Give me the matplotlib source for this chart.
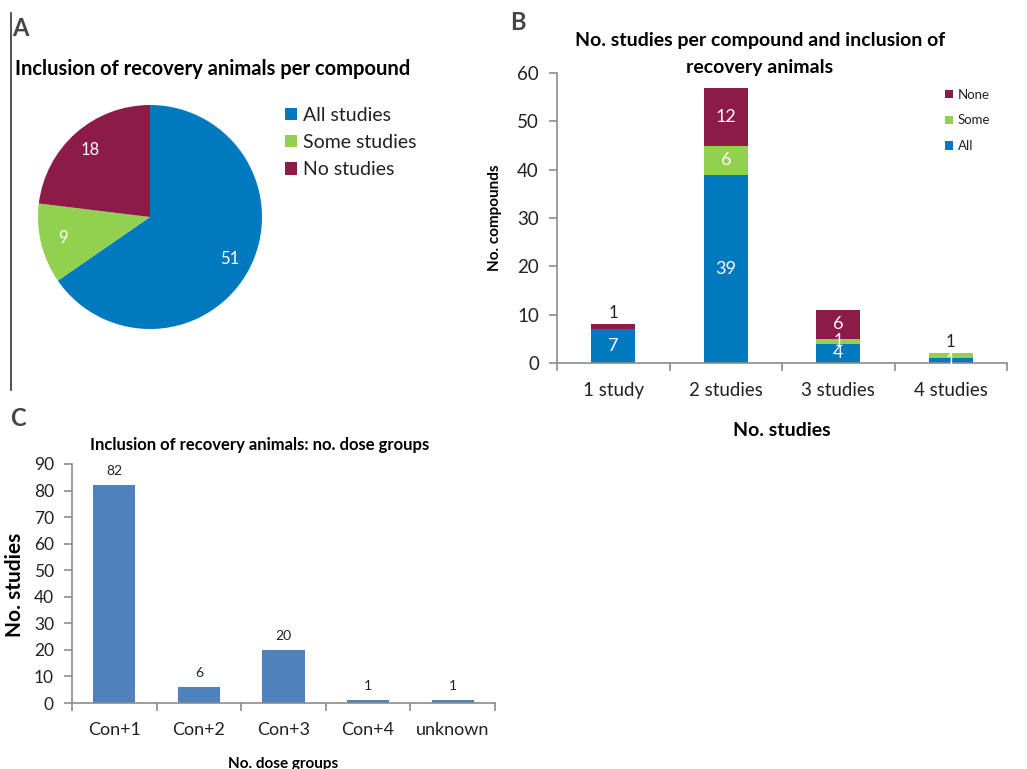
import matplotlib
matplotlib.use("Agg")
import matplotlib.pyplot as plt
import numpy as np
from matplotlib.lines import Line2D

plt.rcParams['font.family'] = ['Lato', 'DejaVu Sans']

# --- data ---
pie_labels = ['All studies', 'Some studies', 'No studies']
pie_values = [51, 9, 18]

study_cats = ['1 study', '2 studies', '3 studies', '4 studies']
all_vals = [7, 39, 4, 1]
some_vals = [0, 6, 1, 1]
none_vals = [1, 12, 6, 0]

dose_cats = ['Con+1', 'Con+2', 'Con+3', 'Con+4', 'unknown']
dose_vals = [82, 6, 20, 1, 1]

BLUE = '#0079BE'
GREEN = '#92D050'
RED = '#8C1B47'
BAR_C = '#4F81BD'
AXIS_GREY = '#8C8C8C'
TXT = '#222222'

W, H = 1027, 769
fig = plt.figure(figsize=(W / 100, H / 100), dpi=100)


def fx(px):
    return px / W


def fy(py):
    return 1 - py / H


# ---------- Panel A: pie ----------
cx, cy, r = 150, 217, 112
axA = fig.add_axes([fx(cx - r), fy(cy + r), 2 * r / W, 2 * r / H])
wedges, _, autotexts = axA.pie(pie_values, colors=[BLUE, GREEN, RED], startangle=90,
                               counterclock=False, autopct=lambda p: f'{p * sum(pie_values) / 100:.0f}',
                               pctdistance=0.8, textprops=dict(color='white', fontsize=12))
axA.set_xlim(-1, 1)
axA.set_ylim(-1, 1)
axA.legend(wedges, pie_labels, loc='upper left', bbox_to_anchor=(fx(285), fy(107)),
           bbox_transform=fig.transFigure, frameon=False, fontsize=14,
           handlelength=0.6, handleheight=0.6, handletextpad=0.35, labelspacing=0.52,
           borderpad=0, borderaxespad=0, labelcolor=TXT)

fig.text(fx(15), fy(69), 'Inclusion of recovery animals per compound', fontsize=14.5,
         fontweight='bold', ha='left', va='center', color='black')
fig.text(fx(12), fy(28), 'A', fontsize=17, fontweight='bold', color='#444444', ha='left', va='center')
fig.add_artist(Line2D([fx(11), fx(11)], [fy(13), fy(390)], color='#333333', lw=1.2))


def style_axes(ax, ncat):
    for s in ['top', 'right']:
        ax.spines[s].set_visible(False)
    for s in ['left', 'bottom']:
        ax.spines[s].set_color(AXIS_GREY)
        ax.spines[s].set_linewidth(1.2)
    ax.set_xlim(-0.5, ncat - 0.5)
    ax.set_xticks(np.arange(ncat))
    ax.set_xticks(np.arange(ncat + 1) - 0.5, minor=True)
    ax.tick_params(axis='x', which='major', length=0, pad=14)
    ax.tick_params(axis='x', which='minor', length=6, color=AXIS_GREY, width=1.2)
    ax.tick_params(axis='y', length=6, color=AXIS_GREY, width=1.2, pad=7, labelcolor=TXT)
    ax.tick_params(axis='x', labelcolor=TXT)


# ---------- Panel B: stacked bars ----------
axB = fig.add_axes([fx(557), fy(363), (1007 - 557) / W, (363 - 73) / H])
x = np.arange(len(study_cats))
bw = 0.39
b_all = axB.bar(x, all_vals, bw, color=BLUE, label='All')
b_some = axB.bar(x, some_vals, bw, bottom=all_vals, color=GREEN, label='Some')
bottom2 = np.array(all_vals) + np.array(some_vals)
b_none = axB.bar(x, none_vals, bw, bottom=bottom2, color=RED, label='None')
style_axes(axB, len(study_cats))
axB.set_ylim(0, 60)
axB.set_yticks(range(0, 61, 10))
axB.set_xticklabels(study_cats, fontsize=13.5)
axB.tick_params(axis='y', labelsize=13.5)

# value labels
for i in range(len(study_cats)):
    segs = [(all_vals[i], 0), (some_vals[i], all_vals[i]), (none_vals[i], bottom2[i])]
    for v, b in segs:
        if v == 0:
            continue
        if v == 1 and (i == 0 or i == 3) and b > 0:
            axB.text(x[i], b + v + 0.6, str(v), ha='center', va='bottom', fontsize=12, color=TXT)
        else:
            axB.text(x[i], b + v / 2, str(v), ha='center', va='center', fontsize=13 if v > 1 else 12,
                     color='white')

axB.legend(handles=[b_none, b_some, b_all], loc='upper left', bbox_to_anchor=(fx(938), fy(82)),
           bbox_transform=fig.transFigure, frameon=False, fontsize=9.5,
           handlelength=0.6, handleheight=0.6, handletextpad=0.4, labelspacing=1.05, borderpad=0,
           labelcolor=TXT)
axB.set_ylabel('No. compounds', fontsize=11, fontweight='bold')
axB.yaxis.set_label_coords(-0.122, 0.5)
axB.set_xlabel('No. studies', fontsize=14, fontweight='bold')
axB.xaxis.set_label_coords(0.5, -0.203)
fig.text(fx(760), fy(54), 'No. studies per compound and inclusion of\nrecovery animals', fontsize=14,
         fontweight='bold', ha='center', va='center', linespacing=1.7)
fig.text(fx(518), fy(22), 'B', fontsize=17, fontweight='bold', color='#444444', ha='center', va='center')

# ---------- Panel C: bars ----------
axC = fig.add_axes([fx(72), fy(703), (495 - 72) / W, (703 - 464) / H])
xc = np.arange(len(dose_cats))
axC.bar(xc, dose_vals, 0.5, color=BAR_C)
style_axes(axC, len(dose_cats))
axC.set_ylim(0, 90)
axC.set_yticks(range(0, 91, 10))
axC.set_xticklabels(dose_cats, fontsize=13)
axC.tick_params(axis='y', labelsize=12.5)
for xi, v in zip(xc, dose_vals):
    axC.text(xi, v + 3, str(v), ha='center', va='bottom', fontsize=10, color=TXT)
axC.set_ylabel('No. studies', fontsize=15, fontweight='bold')
axC.yaxis.set_label_coords(-0.111, 0.494)
axC.set_xlabel('No. dose groups', fontsize=11, fontweight='bold')
axC.xaxis.set_label_coords(0.499, -0.225)
fig.text(fx(260), fy(445), 'Inclusion of recovery animals: no. dose groups', fontsize=12,
         fontweight='bold', ha='center', va='center')
fig.text(fx(18), fy(418), 'C', fontsize=17, fontweight='bold', color='#444444', ha='center', va='center')

fig.savefig('out.png', dpi=100)
